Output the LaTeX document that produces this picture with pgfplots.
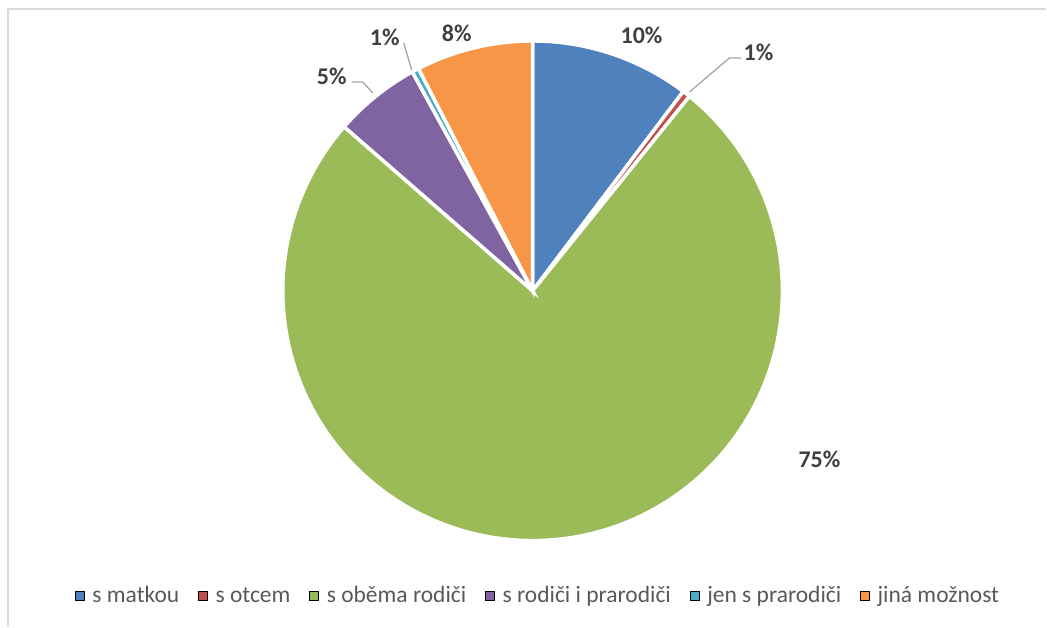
\documentclass[border=0pt]{standalone}
\usepackage{pgfplots}
\pgfplotsset{compat=1.18}
\usepackage{fontspec}
\setmainfont{Carlito}
\definecolor{cblue}{HTML}{4F81BD}
\definecolor{cred}{HTML}{C0504D}
\definecolor{cgreen}{HTML}{9BBB59}
\definecolor{cpurple}{HTML}{8064A2}
\definecolor{ccyan}{HTML}{4BACC6}
\definecolor{corange}{HTML}{F79646}
\definecolor{labgray}{HTML}{404040}
\definecolor{leggray}{HTML}{595959}
\definecolor{leadgray}{HTML}{A6A6A6}
\definecolor{bordergray}{HTML}{D9D9D9}
% shares in percent
\def\vA{10.3}  % s matkou
\def\vB{0.5}   % s otcem
\def\vC{75.6}  % s oběma rodiči
\def\vD{5.6}   % s rodiči i prarodiči
\def\vE{0.45}  % jen s prarodiči
\def\vF{7.55}  % jiná možnost
\pgfmathsetmacro\aA{0}
\pgfmathsetmacro\aB{\aA+3.6*\vA}
\pgfmathsetmacro\aC{\aB+3.6*\vB}
\pgfmathsetmacro\aD{\aC+3.6*\vC}
\pgfmathsetmacro\aE{\aD+3.6*\vD}
\pgfmathsetmacro\aF{\aE+3.6*\vE}
\pgfmathsetmacro\aG{\aF+3.6*\vF}
\begin{document}
\begin{tikzpicture}
\begin{axis}[
  scale only axis, width=1047pt, height=627pt,
  xmin=0, xmax=1047, ymin=0, ymax=627, y dir=reverse,
  hide axis, clip=false,
  legend image code/.code={\fill[#1] (0pt,-4.5pt) rectangle (9pt,4.5pt);},
  legend style={draw=none, fill=none, at={(axis cs:538.5,596)}, anchor=center,
    legend columns=6, font=\fontsize{23.5}{27}\selectfont, text=leggray,
    /tikz/every even column/.append style={column sep=17pt},
    /tikz/every odd column/.append style={column sep=6pt}},
  legend cell align=left,
]
\path (axis cs:0,0) rectangle (axis cs:1047,627);
\draw[bordergray, line width=1.5pt] (axis cs:8,627) -- (axis cs:8,9) -- (axis cs:1047,9);
\pgfplotsset{slice/.style={draw=white, line width=3.5pt, samples=120, forget plot}}
\addplot[slice, fill=cblue, domain=\aA:\aB] ({533+250*sin(x)},{291-250*cos(x)}) -- (axis cs:533,291) -- cycle;
\addplot[slice, fill=cred, domain=\aB:\aC, samples=10] ({533+250*sin(x)},{291-250*cos(x)}) -- (axis cs:533,291) -- cycle;
\addplot[slice, fill=cgreen, domain=\aC:\aD, samples=300] ({533+250*sin(x)},{291-250*cos(x)}) -- (axis cs:533,291) -- cycle;
\addplot[slice, fill=cpurple, domain=\aD:\aE] ({533+250*sin(x)},{291-250*cos(x)}) -- (axis cs:533,291) -- cycle;
\addplot[slice, fill=ccyan, domain=\aE:\aF, samples=10] ({533+250*sin(x)},{291-250*cos(x)}) -- (axis cs:533,291) -- cycle;
\addplot[slice, fill=corange, domain=\aF:\aG] ({533+250*sin(x)},{291-250*cos(x)}) -- (axis cs:533,291) -- cycle;
% leader lines
\draw[leadgray, line width=1.3pt] (axis cs:690,92) -- (axis cs:730,58) -- (axis cs:742,58);
\draw[leadgray, line width=1.3pt] (axis cs:412,70) -- (axis cs:404,43);
\draw[leadgray, line width=1.3pt] (axis cs:373,93) -- (axis cs:363,82) -- (axis cs:352,82);
% data labels
\begin{scope}[every node/.style={font=\fontsize{24}{28}\selectfont\bfseries, text=labgray, inner sep=0pt}]
\node at (axis cs:642,35) {10\%};
\node at (axis cs:759,52) {1\%};
\node at (axis cs:820,460) {75\%};
\node at (axis cs:332,76) {5\%};
\node at (axis cs:385,37) {1\%};
\node at (axis cs:457,33) {8\%};
\end{scope}
\addlegendimage{fill=cblue}\addlegendentry{s matkou}
\addlegendimage{fill=cred}\addlegendentry{s otcem}
\addlegendimage{fill=cgreen}\addlegendentry{s oběma rodiči}
\addlegendimage{fill=cpurple}\addlegendentry{s rodiči i prarodiči}
\addlegendimage{fill=ccyan}\addlegendentry{jen s prarodiči}
\addlegendimage{fill=corange}\addlegendentry{jiná možnost}
\end{axis}
\end{tikzpicture}
\end{document}
